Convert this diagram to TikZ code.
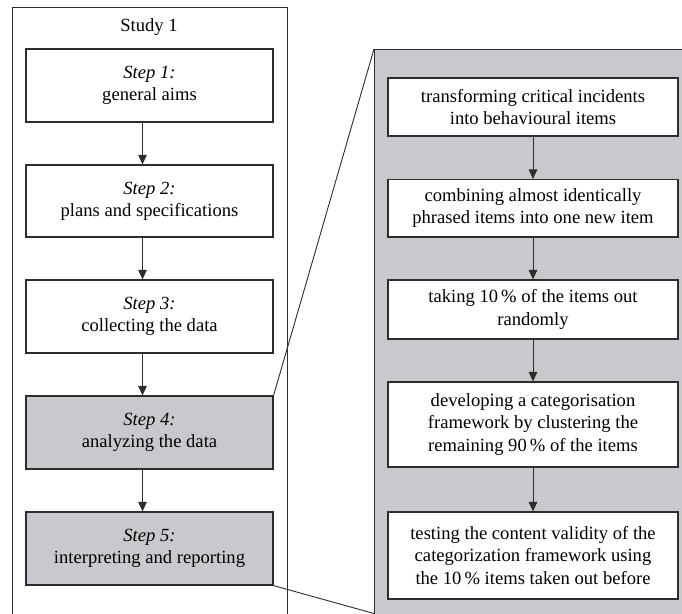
\documentclass[tikz,border=0pt]{standalone}
\usepackage{fontspec}
\setmainfont{Liberation Serif}
\usetikzlibrary{arrows.meta}
\definecolor{panelgray}{RGB}{200,201,204}
\definecolor{edgecol}{RGB}{45,45,45}
\begin{document}
\begin{tikzpicture}[x=1pt,y=-1pt,
  txt/.style={font=\fontsize{18.6}{22.3}\selectfont},
  stepbox/.style={txt,draw=edgecol,line width=1.2pt,fill=white,minimum width=247pt,inner sep=0pt,align=center},
  graystep/.style={stepbox,fill=panelgray},
  itembox/.style={txt,draw=edgecol,line width=1.2pt,fill=white,minimum width=290pt,inner sep=0pt,align=center},
  arr/.style={draw=edgecol,line width=1pt,-{Triangle[length=9.5pt,width=8.5pt]}},
  link/.style={draw=edgecol,line width=0.9pt}]
\useasboundingbox (0,0) rectangle (682,613);
\clip (0,0) rectangle (682,613);
% containers
\node[draw=edgecol,line width=0.9pt,anchor=north west,minimum width=275.3pt,minimum height=620pt,inner sep=0pt] (outer) at (11.7,7) {};
\node[txt] (title) at (149,26.6) {Study 1};
\node[draw=edgecol,line width=1pt,fill=panelgray,anchor=north west,minimum width=330pt,minimum height=580pt,inner sep=0pt] (panel) at (374,49) {};
% left steps
\node[stepbox,minimum height=73pt] (s1) at (149.5,85.5) {\textit{Step 1:}\\general aims};
\node[stepbox,minimum height=72pt] (s2) at (149.5,201) {\textit{Step 2:}\\plans and specifications};
\node[stepbox,minimum height=73pt] (s3) at (149.5,316.5) {\textit{Step 3:}\\collecting the data};
\node[graystep,minimum height=73pt] (s4) at (149.5,432.5) {\textit{Step 4:}\\analyzing the data};
\node[graystep,minimum height=73pt] (s5) at (149.5,548.5) {\textit{Step 5:}\\interpreting and reporting};
% right items
\node[itembox,minimum height=58pt] (r1) at (533,107) {transforming critical incidents\\into behavioural items};
\node[itembox,minimum height=57.5pt] (r2) at (533,208.3) {combining almost identically\\phrased items into one new item};
\node[itembox,minimum height=59pt] (r3) at (533,309.5) {taking 10\,\% of the items out\\randomly};
\node[itembox,minimum height=85pt] (r4) at (533,424.5) {developing a categorisation\\framework by clustering the\\remaining 90\,\% of the items};
\node[itembox,minimum height=87pt] (r5) at (533,555.5) {testing the content validity of the\\categorization framework using\\the 10\,\% items taken out before};
% arrows
\foreach \a/\b in {s1/s2,s2/s3,s3/s4,s4/s5}
  \draw[arr] ([xshift=-7pt]\a.south) -- ([xshift=-7pt]\b.north);
\foreach \a/\b in {r1/r2,r2/r3,r3/r4,r4/r5}
  \draw[arr] (\a.south) -- (\b.north);
% zoom connectors
\coordinate (pb) at (374,613.5);
\draw[link] (s4.north east) -- (panel.north west);
\draw[link] (s5.south east) -- (pb);
\end{tikzpicture}
\end{document}
